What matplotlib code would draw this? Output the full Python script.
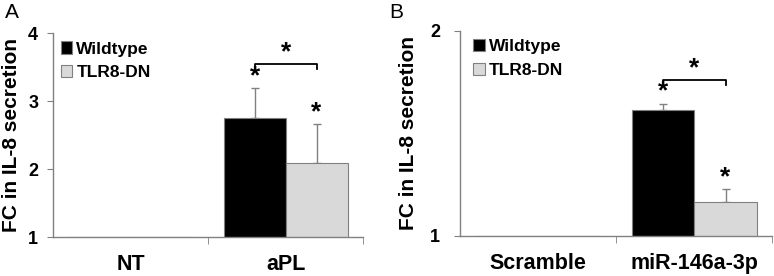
import numpy as np
import matplotlib
matplotlib.use("Agg")
import matplotlib.pyplot as plt

plt.rcParams["font.family"] = ["Liberation Sans", "DejaVu Sans"]

# Panel A data
cats_a = ["NT", "aPL"]
wt_a = [1.0, 2.75]
wt_err_a = [0.0, 0.44]
dn_a = [1.0, 2.09]
dn_err_a = [0.0, 0.57]

# Panel B data
cats_b = ["Scramble", "miR-146a-3p"]
wt_b = [1.0, 1.615]
wt_err_b = [0.0, 0.03]
dn_b = [1.0, 1.166]
dn_err_b = [0.0, 0.063]

series_names = ["Wildtype", "TLR8-DN"]
grey = "#808080"


def draw_panel(ax, cats, wt, wt_err, dn, dn_err, ylim, yticks, bracket_y, leg_x, ypad, lpad):
    x = np.arange(len(cats))
    w = 0.4
    ax.bar(x - w / 2, wt, w, color="black", edgecolor=grey, linewidth=0.8,
           label=series_names[0], zorder=2)
    ax.bar(x + w / 2, dn, w, color="#d9d9d9", edgecolor=grey, linewidth=0.8,
           label=series_names[1], zorder=2)
    # one-sided error bars for the treated group only
    ax.errorbar(x[1:] - w / 2, wt[1:], yerr=[[0], wt_err[1:]], fmt="none",
                ecolor=grey, elinewidth=1, capsize=3, capthick=1, zorder=1)
    ax.errorbar(x[1:] + w / 2, dn[1:], yerr=[[0], dn_err[1:]], fmt="none",
                ecolor=grey, elinewidth=1, capsize=3, capthick=1, zorder=1)

    # stars above each treated bar
    ax.text(x[1] - w / 2, wt[1] + wt_err[1], "*", ha="center",
            va="bottom", fontsize=19, fontweight="bold")
    ax.text(x[1] + w / 2, dn[1] + dn_err[1], "*", ha="center",
            va="bottom", fontsize=19, fontweight="bold")

    # bracket between groups
    span = ylim[1] - ylim[0]
    tick = 0.025 * span
    ax.plot([x[1] - w / 2, x[1] - w / 2, x[1] + w / 2, x[1] + w / 2],
            [bracket_y - tick, bracket_y, bracket_y, bracket_y - tick],
            color="black", linewidth=1.3)
    ax.text(x[1], bracket_y, "*", ha="center", va="bottom",
            fontsize=19, fontweight="bold")

    ax.set_xlim(-0.5, 1.5)
    ax.set_ylim(*ylim)
    ax.set_yticks(yticks)
    ax.set_yticklabels([str(t) for t in yticks], fontsize=13, fontweight="bold")
    ax.set_xticks(x)
    ax.set_xticklabels(cats, fontsize=15.5, fontweight="bold")
    ax.set_xticks([0.5, 1.5], minor=True)
    ax.tick_params(axis="x", which="major", length=0, pad=12)
    ax.tick_params(axis="x", which="minor", length=5, color=grey)
    ax.tick_params(axis="y", length=4, color=grey, pad=ypad)
    for s in ["top", "right"]:
        ax.spines[s].set_visible(False)
    for s in ["left", "bottom"]:
        ax.spines[s].set_color(grey)
        ax.spines[s].set_linewidth(1)
    ax.set_ylabel("FC in IL-8 secretion", fontsize=15, fontweight="bold", labelpad=lpad)

    leg = ax.legend(loc="upper left", bbox_to_anchor=(leg_x, 1.01), frameon=False,
                    handlelength=0.65, handleheight=0.7, handletextpad=0.25,
                    labelspacing=0.5, borderaxespad=0.2,
                    prop={"weight": "bold", "size": 12.5})
    for h in leg.legend_handles:
        h.set_edgecolor(grey)


fig = plt.figure(figsize=(7.74, 2.76), dpi=100)
ax_a = fig.add_axes([0.069, 0.141, 0.400, 0.739])
ax_b = fig.add_axes([0.594, 0.145, 0.404, 0.743])

draw_panel(ax_a, cats_a, wt_a, wt_err_a, dn_a, dn_err_a, (1, 4), [1, 2, 3, 4], 3.54, -0.01, 7, 5)
draw_panel(ax_b, cats_b, wt_b, wt_err_b, dn_b, dn_err_b, (1, 2), [1, 2], 1.76, 0.01, 10, 9)

fig.text(0.006, 0.99, "A", fontsize=15, va="top", ha="left")
fig.text(0.503, 0.99, "B", fontsize=15, va="top", ha="left")

fig.savefig("out.png", dpi=100)
